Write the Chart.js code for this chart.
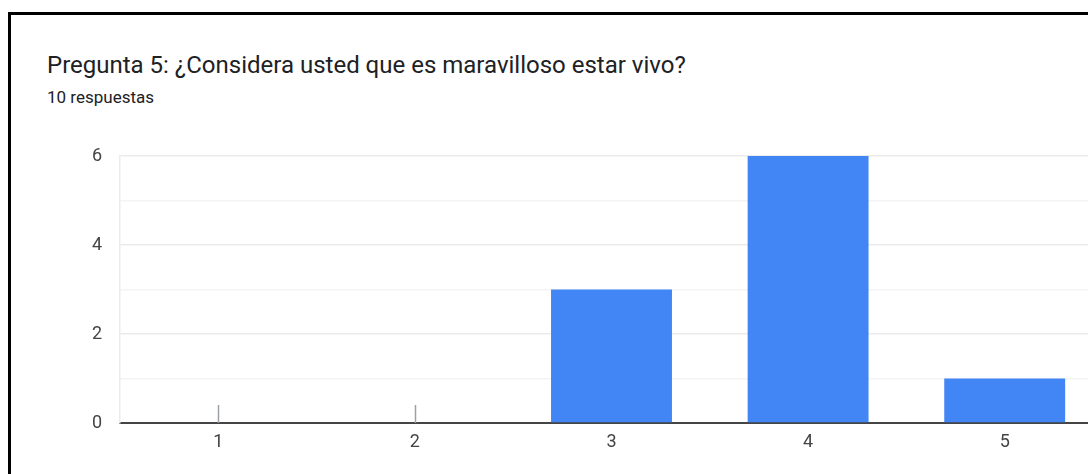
<!DOCTYPE html>
<html lang="es">
<head>
<meta charset="utf-8">
<title>Pregunta 5</title>
<script src="https://cdn.jsdelivr.net/npm/chart.js@4/dist/chart.umd.min.js"></script>
<style>
    html, body { margin: 0; padding: 0; background: #fff; overflow: hidden; }
    body { width: 1088px; height: 474px; position: relative; font-family: Roboto, Arial, sans-serif; }
    .card {
        position: absolute; left: 8px; top: 12px; width: 1200px; height: 600px;
        border-left: 3px solid #000; border-top: 3px solid #000;
    }
    .titulo { position: absolute; left: 47px; top: 51px; font-size: 24px; color: #202124; white-space: nowrap; }
    .subtitulo { position: absolute; left: 47px; top: 87px; font-size: 17px; color: #202124; }
    .grafico { position: absolute; left: 0; top: 140px; width: 1103px; height: 334px; }
</style>
</head>
<body>
<div class="card"></div>
<div class="titulo">Pregunta 5: ¿Considera usted que es maravilloso estar vivo?</div>
<div class="subtitulo">10 respuestas</div>
<div class="grafico"><canvas id="respuestasChart"></canvas></div>

<script>
// --- Datos ---
const opciones = ['1', '2', '3', '4', '5'];
const respuestas = [0, 0, 3, 6, 1];
const marcasY = [0, 2, 4, 6];

const COLOR_BARRA = '#4285f4';

// Pequeña marca vertical para las opciones sin respuestas
const marcaCero = {
    id: 'marcaCero',
    afterDatasetsDraw(chart) {
        const { ctx, scales: { x, y } } = chart;
        ctx.save();
        ctx.strokeStyle = '#9aa0a6';
        ctx.lineWidth = 1.5;
        respuestas.forEach((valor, i) => {
            if (valor !== 0) return;
            const px = Math.round(x.getPixelForValue(i)) + 0.5;
            const base = y.getPixelForValue(0);
            ctx.beginPath();
            ctx.moveTo(px, base);
            ctx.lineTo(px, base - 18);
            ctx.stroke();
        });
        ctx.restore();
    }
};

const ctx = document.getElementById('respuestasChart').getContext('2d');
new Chart(ctx, {
    type: 'bar',
    data: {
        labels: opciones,
        datasets: [{
            data: respuestas,
            backgroundColor: COLOR_BARRA,
            categoryPercentage: 1,
            barPercentage: 0.615
        }]
    },
    options: {
        responsive: true,
        maintainAspectRatio: false,
        animation: false,
        layout: { padding: { top: 16, right: 0, left: 0, bottom: 0 } },
        plugins: {
            legend: { display: false },
            tooltip: { enabled: false }
        },
        scales: {
            x: {
                grid: { display: false, drawTicks: false },
                border: { display: true, color: '#444', width: 2 },
                ticks: { color: '#444', font: { family: 'Roboto', size: 18 }, padding: 9 },
                afterFit: (scale) => { scale.height = 51; }
            },
            y: {
                min: 0,
                max: 6,
                ticks: {
                    stepSize: 1,
                    color: '#444',
                    font: { family: 'Roboto', size: 18 },
                    padding: 18,
                    callback: (v) => marcasY.includes(v) ? String(v) : ''
                },
                grid: {
                    drawTicks: false,
                    color: (c) => {
                        const v = c.tick ? c.tick.value : 0;
                        if (v === 0) return 'rgba(0,0,0,0)';
                        return marcasY.includes(v) ? '#ebebeb' : '#f4f4f4';
                    },
                    lineWidth: 1.5
                },
                border: { display: true, color: '#ebebeb', width: 1.5 },
                afterFit: (scale) => {
                    scale.width = 120;
                    // el margen superior lo fija layout.padding
                    scale.paddingTop = 0;
                    scale.paddingBottom = 0;
                }
            }
        }
    },
    plugins: [marcaCero]
});
</script>
</body>
</html>
